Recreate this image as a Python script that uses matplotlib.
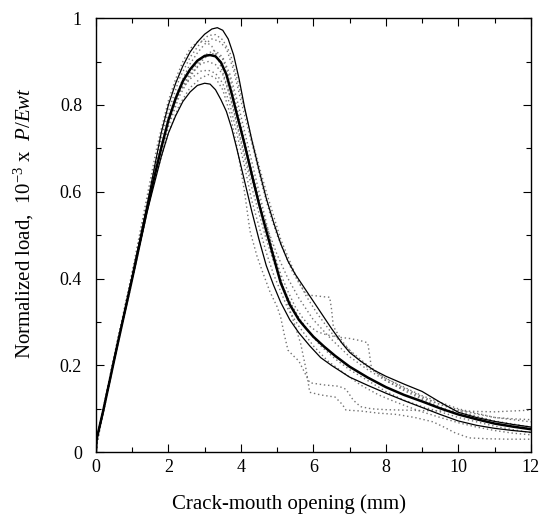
import matplotlib
matplotlib.use('Agg')
import matplotlib.pyplot as plt
from matplotlib.ticker import MultipleLocator

plt.rcParams['font.family'] = ['Liberation Serif', 'DejaVu Serif']
plt.rcParams['mathtext.fontset'] = 'custom'
plt.rcParams['mathtext.rm'] = 'Liberation Serif'
plt.rcParams['mathtext.it'] = 'Liberation Serif:italic'

# fitted curves (mean, upper, lower)
mean_x = [0, 0.02, 0.2, 0.6, 1.0, 1.4, 1.6, 1.8, 2.0, 2.2, 2.4, 2.6, 2.8, 3.0, 3.15, 3.3, 3.45, 3.6,
          3.75, 3.9, 4.1, 4.3, 4.5, 4.7, 4.9, 5.1, 5.35, 5.6, 5.8, 6.0, 6.3, 6.6, 7.0, 7.5, 8.0,
          8.5, 9.0, 9.5, 10.0, 10.5, 11.0, 11.5, 12]
mean_y = [0, 0.03, 0.095, 0.25, 0.40, 0.555, 0.63, 0.70, 0.765, 0.815, 0.855, 0.882, 0.902, 0.913, 0.915,
          0.912, 0.898, 0.87, 0.825, 0.775, 0.71, 0.64, 0.572, 0.51, 0.45, 0.39, 0.34, 0.305, 0.285,
          0.266, 0.243, 0.222, 0.197, 0.172, 0.15, 0.132, 0.117, 0.101, 0.087, 0.076, 0.066, 0.059, 0.053]

upper_x = [0, 0.02, 0.2, 0.6, 1.0, 1.4, 1.6, 1.8, 2.0, 2.2, 2.4, 2.6, 2.8, 3.0, 3.2, 3.35, 3.5, 3.65,
           3.8, 3.95, 4.1, 4.3, 4.5, 4.7, 4.9, 5.1, 5.3, 5.5, 5.7, 5.9, 6.1, 6.3, 6.5, 6.8, 7.0,
           7.3, 7.65, 8.0, 8.5, 9.0, 9.5, 10.0, 10.5, 11.0, 11.5, 12]
upper_y = [0, 0.03, 0.095, 0.25, 0.405, 0.565, 0.65, 0.735, 0.80, 0.85, 0.89, 0.922, 0.945, 0.963, 0.975,
           0.978, 0.972, 0.952, 0.915, 0.86, 0.795, 0.72, 0.65, 0.585, 0.53, 0.48, 0.44, 0.41, 0.385,
           0.36, 0.335, 0.31, 0.285, 0.25, 0.23, 0.21, 0.19, 0.175, 0.157, 0.14, 0.115, 0.092, 0.08,
           0.071, 0.064, 0.058]

lower_x = [0, 0.02, 0.2, 0.6, 1.0, 1.4, 1.6, 1.8, 2.0, 2.2, 2.4, 2.6, 2.8, 3.0, 3.15, 3.3, 3.45, 3.6,
           3.75, 3.9, 4.1, 4.3, 4.5, 4.7, 4.9, 5.1, 5.35, 5.6, 5.9, 6.2, 6.5, 7.0, 7.5, 8.0, 8.5,
           9.0, 9.5, 10.0, 10.5, 11.0, 11.5, 12]
lower_y = [0, 0.03, 0.095, 0.25, 0.40, 0.55, 0.615, 0.68, 0.735, 0.775, 0.808, 0.83, 0.845, 0.85, 0.848,
           0.835, 0.812, 0.785, 0.745, 0.695, 0.625, 0.555, 0.49, 0.43, 0.385, 0.345, 0.305, 0.275,
           0.245, 0.218, 0.2, 0.173, 0.154, 0.136, 0.119, 0.103, 0.087, 0.072, 0.062, 0.055, 0.05, 0.046]

# test records (dotted)
test1_x = [0, 0.05, 0.5, 1.0, 1.4, 1.7, 2.0, 2.2, 2.4, 2.6, 2.8, 3.0, 3.2, 3.4, 3.6, 3.8, 4.0, 4.2,
           4.4, 4.6, 4.8, 5.0, 5.2, 5.4, 5.6, 5.75, 5.85, 6.1, 6.3, 6.45, 6.5, 6.55, 6.8, 7.1, 7.5,
           8.0, 8.5, 9.0, 9.5, 10.0, 10.5, 11.0, 11.5, 12]
test1_y = [0, 0.04, 0.215, 0.41, 0.56, 0.67, 0.77, 0.82, 0.86, 0.895, 0.92, 0.94, 0.952, 0.947, 0.93,
           0.88, 0.81, 0.745, 0.68, 0.61, 0.55, 0.5, 0.46, 0.42, 0.39, 0.37, 0.362, 0.36, 0.358, 0.357,
           0.33, 0.29, 0.255, 0.225, 0.195, 0.17, 0.15, 0.13, 0.115, 0.1, 0.09, 0.08, 0.075, 0.07]

test2_x = [0, 0.05, 0.5, 1.0, 1.4, 1.7, 2.0, 2.3, 2.6, 2.9, 3.1, 3.3, 3.5, 3.7, 3.9, 4.1, 4.3, 4.5,
           4.7, 4.9, 5.1, 5.3, 5.5, 5.7, 5.9, 6.1, 6.3, 6.6, 7.0, 7.3, 7.5, 7.55, 7.6, 8.0, 8.5,
           9.0, 9.5, 10.0, 10.5, 11.0, 11.5, 12]
test2_y = [0, 0.03, 0.21, 0.395, 0.55, 0.66, 0.75, 0.82, 0.865, 0.9, 0.915, 0.92, 0.905, 0.86, 0.79,
           0.72, 0.65, 0.585, 0.52, 0.46, 0.41, 0.37, 0.335, 0.31, 0.29, 0.278, 0.272, 0.266, 0.262,
           0.257, 0.252, 0.225, 0.195, 0.165, 0.145, 0.125, 0.11, 0.095, 0.083, 0.072, 0.065, 0.058]

test3_x = [0, 0.05, 0.5, 1.0, 1.4, 1.7, 2.0, 2.3, 2.6, 2.9, 3.1, 3.3, 3.5, 3.7, 3.9, 4.1, 4.25, 4.45,
           4.6, 4.8, 5.0, 5.1, 5.2, 5.3, 5.45, 5.6, 5.75, 5.9, 6.3, 6.7, 6.9, 7.1, 7.3, 7.6, 8.0,
           8.5, 9.0, 9.5, 10.0, 10.5, 11.0, 11.5, 12]
test3_y = [0, 0.035, 0.215, 0.40, 0.55, 0.65, 0.735, 0.8, 0.84, 0.862, 0.87, 0.862, 0.835, 0.78, 0.7,
           0.6, 0.51, 0.45, 0.415, 0.37, 0.335, 0.31, 0.27, 0.235, 0.222, 0.21, 0.185, 0.16, 0.155,
           0.152, 0.145, 0.12, 0.105, 0.1, 0.098, 0.097, 0.096, 0.095, 0.095, 0.094, 0.093, 0.095, 0.097]

test4_x = [0, 0.05, 0.5, 1.0, 1.4, 1.7, 2.0, 2.3, 2.6, 2.9, 3.1, 3.3, 3.5, 3.7, 3.9, 4.1, 4.3, 4.5,
           4.7, 4.9, 5.1, 5.3, 5.5, 5.65, 5.8, 5.9, 6.2, 6.6, 6.8, 6.9, 7.3, 7.8, 8.3, 8.8, 9.3,
           9.6, 9.9, 10.3, 10.8, 11.4, 12]
test4_y = [0, 0.035, 0.215, 0.40, 0.56, 0.665, 0.76, 0.83, 0.875, 0.905, 0.92, 0.925, 0.91, 0.87, 0.81,
           0.74, 0.67, 0.6, 0.53, 0.46, 0.4, 0.34, 0.29, 0.25, 0.19, 0.138, 0.132, 0.127, 0.11, 0.097,
           0.095, 0.09, 0.087, 0.08, 0.07, 0.058, 0.045, 0.033, 0.031, 0.03, 0.03]

test5_x = [0, 0.05, 0.5, 1.0, 1.4, 1.7, 2.0, 2.3, 2.6, 2.9, 3.1, 3.3, 3.5, 3.7, 3.9, 4.1, 4.3, 4.5,
           4.7, 4.9, 5.1, 5.3, 5.5, 5.8, 6.1, 6.5, 7.0, 7.5, 8.0, 8.5, 9.0, 9.5, 10.0, 10.5, 11.0,
           11.5, 12]
test5_y = [0, 0.03, 0.22, 0.41, 0.575, 0.69, 0.785, 0.86, 0.91, 0.945, 0.96, 0.962, 0.95, 0.92, 0.86,
           0.79, 0.72, 0.66, 0.6, 0.545, 0.49, 0.45, 0.41, 0.36, 0.32, 0.275, 0.235, 0.2, 0.17, 0.148,
           0.128, 0.11, 0.098, 0.088, 0.08, 0.077, 0.075]

test6_x = [0, 0.05, 0.5, 1.0, 1.4, 1.7, 2.0, 2.3, 2.6, 2.9, 3.1, 3.3, 3.5, 3.7, 3.9, 4.1, 4.3, 4.5,
           4.7, 4.9, 5.1, 5.3, 5.6, 5.9, 6.2, 6.6, 7.0, 7.5, 8.0, 8.5, 9.0, 9.5, 10.0, 10.5, 11.0,
           11.5, 12]
test6_y = [0, 0.03, 0.21, 0.40, 0.555, 0.665, 0.755, 0.83, 0.87, 0.895, 0.9, 0.893, 0.87, 0.82, 0.75,
           0.68, 0.61, 0.55, 0.49, 0.44, 0.395, 0.355, 0.31, 0.275, 0.245, 0.215, 0.19, 0.165, 0.14,
           0.12, 0.105, 0.093, 0.08, 0.07, 0.06, 0.052, 0.045]

test7_x = [0, 0.05, 0.5, 1.0, 1.4, 1.7, 2.0, 2.3, 2.6, 2.9, 3.1, 3.3, 3.5, 3.7, 3.9, 4.1, 4.3, 4.5,
           4.7, 4.9, 5.1, 5.3, 5.6, 6.0, 6.4, 6.8, 7.3, 7.8, 8.2, 8.6, 9.0, 9.5, 10.0, 10.5, 11.0,
           11.5, 12]
test7_y = [0, 0.035, 0.22, 0.405, 0.565, 0.675, 0.765, 0.83, 0.86, 0.878, 0.88, 0.873, 0.85, 0.8, 0.73,
           0.66, 0.58, 0.52, 0.46, 0.41, 0.37, 0.33, 0.29, 0.245, 0.21, 0.185, 0.155, 0.132, 0.118,
           0.105, 0.093, 0.08, 0.068, 0.058, 0.05, 0.044, 0.04]

test8_x = [0, 0.05, 0.5, 1.0, 1.4, 1.7, 2.0, 2.2, 2.4, 2.6, 2.8, 3.0, 3.2, 3.4, 3.6, 3.8, 4.0, 4.2,
           4.4, 4.6, 4.8, 5.0, 5.3, 5.6, 6.0, 6.5, 7.0, 7.5, 8.0, 8.5, 9.0, 9.5, 10.0, 10.5, 11.0,
           11.5, 12]
test8_y = [0, 0.04, 0.22, 0.415, 0.585, 0.71, 0.81, 0.86, 0.9, 0.93, 0.945, 0.948, 0.935, 0.9, 0.85,
           0.79, 0.72, 0.655, 0.6, 0.545, 0.5, 0.455, 0.4, 0.355, 0.305, 0.26, 0.22, 0.19, 0.165,
           0.142, 0.122, 0.104, 0.088, 0.076, 0.066, 0.06, 0.055]

tests = [(test1_x, test1_y), (test2_x, test2_y), (test3_x, test3_y), (test4_x, test4_y),
         (test5_x, test5_y), (test6_x, test6_y), (test7_x, test7_y), (test8_x, test8_y)]

fig = plt.figure(figsize=(5.45, 5.18), dpi=100)
ax = fig.add_axes([0.176, 0.127, 0.798, 0.838])

for tx, ty in tests:
    ax.plot(tx, ty, color='0.45', lw=1.0, linestyle=(0, (1, 2)))

ax.plot(upper_x, upper_y, color='black', lw=0.9)
ax.plot(lower_x, lower_y, color='black', lw=0.9)
ax.plot(mean_x, mean_y, color='black', lw=1.8)

ax.set_xlim(0, 12)
ax.set_ylim(0, 1)
ax.xaxis.set_major_locator(MultipleLocator(2))
ax.xaxis.set_minor_locator(MultipleLocator(1))
ax.set_yticks([0, 0.2, 0.4, 0.6, 0.8, 1.0], ['0', '0.2', '0.4', '0.6', '0.8', '1'])
ax.yaxis.set_minor_locator(MultipleLocator(0.1))
ax.tick_params(which='both', direction='in', top=True, right=True, labelsize=13, width=0.8)
ax.tick_params(which='major', length=6)
ax.tick_params(which='minor', length=3.5)
ax.tick_params(axis='y', pad=10)
ax.tick_params(axis='x', pad=5)
for s in ax.spines.values():
    s.set_linewidth(1.0)

ax.set_xlabel('Crack-mouth opening (mm)', fontsize=15)
ax.xaxis.set_label_coords(0.444, -0.098)
ax.set_ylabel(r'Normalized load,  10$^{-3}$ x  $P/Ewt$', fontsize=15)
ax.yaxis.set_label_coords(-0.138, 0.528)

plt.savefig('out.png')
